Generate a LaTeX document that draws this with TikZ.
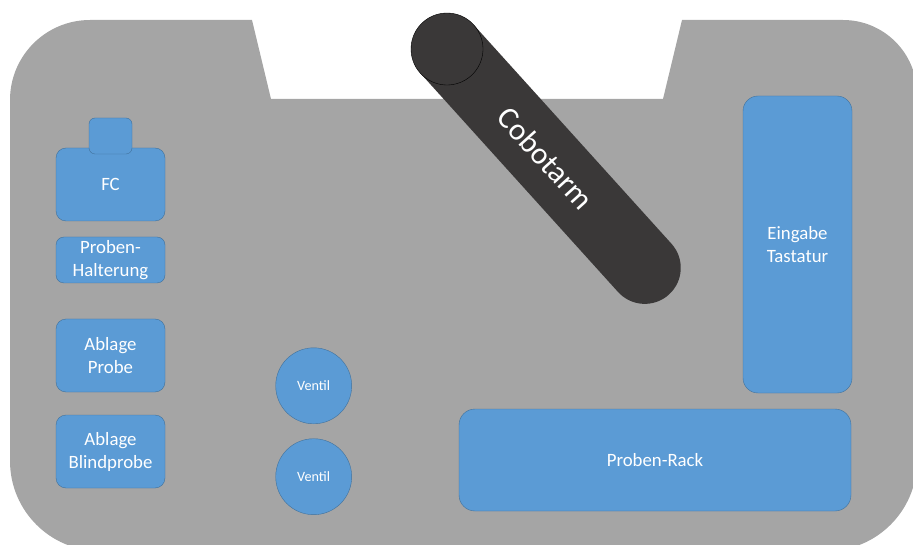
\documentclass[tikz,border=0pt]{standalone}
\usepackage{fontspec}
\setmainfont{Carlito}
\usetikzlibrary{positioning}
\definecolor{basegray}{HTML}{A5A5A5}
\definecolor{boxblue}{HTML}{5B9BD5}
\definecolor{boxedge}{HTML}{41719C}
\definecolor{armgray}{HTML}{3A3838}
\newcommand{\partfont}{\fontsize{18.8}{23}\selectfont}
\newcommand{\valvefont}{\fontsize{14.2}{17}\selectfont}
\newcommand{\armfont}{\fontsize{31}{36}\selectfont}
\tikzset{
  partbox/.style={draw=boxedge, fill=boxblue, rounded corners=10pt, text=white, align=center, font=\partfont, inner sep=0pt, minimum width=109pt, minimum height=73pt},
  valvenode/.style={circle, draw=boxedge, fill=boxblue, text=white, font=\valvefont, minimum size=76pt, inner sep=0pt},
  armlabel/.style={text=white, font=\armfont, inner sep=0pt, transform shape}
}

\begin{document}
\begin{tikzpicture}[x=1pt, y=-1pt]
  \useasboundingbox (0,0) rectangle (913,545);
  \clip (0,0) rectangle (913,545);
  % base plate with notch
  \fill[basegray] (10,100) arc[start angle=180, end angle=270, radius=80]
    -- (252,20) -- (271,99) -- (663,99) -- (682,20) -- (843,20)
    arc[start angle=270, end angle=360, radius=74] -- (917,461)
    arc[start angle=0, end angle=90, radius=90] -- (100,551)
    arc[start angle=90, end angle=180, radius=90] -- cycle;

  % left column
  \node[partbox] (fc) at (110.5,184.5) {FC};
  \node[partbox, rounded corners=6pt, minimum width=43pt, minimum height=36pt] (fctop) at (110.5,136) {};
  \node[partbox, rounded corners=8pt, minimum height=46pt] (halter) at (110.5,260) {Proben-\\Halterung};
  \node[partbox] (ablage) at (110.5,355.5) {Ablage\\Probe};
  \node[partbox] (blind) at (110.5,451.5) {Ablage\\Blindprobe};

  % valves
  \node[valvenode] (ventil1) at (313.7,385.8) {Ventil};
  \node[valvenode] (ventil2) at (313.7,476.7) {Ventil};

  % right side
  \node[partbox, rounded corners=15pt, minimum height=297pt] (tastatur) at (797.5,244.5) {Eingabe\\Tastatur};
  \node[partbox, rounded corners=16pt, minimum width=392pt, minimum height=102pt] (rack) at (655,460) {Proben-Rack};

  % cobot arm
  \begin{scope}[shift={(447,49)}, rotate=-47.9]
    \fill[armgray] (0,-36) -- (295,-36) arc[start angle=-90, end angle=90, radius=36] -- (0,36) -- cycle;
    \filldraw[fill=armgray, draw=black, thin] (0,0) circle[radius=36];
    \node[armlabel] (arm) at (147.5,0) {Cobotarm};
  \end{scope}
\end{tikzpicture}
\end{document}
